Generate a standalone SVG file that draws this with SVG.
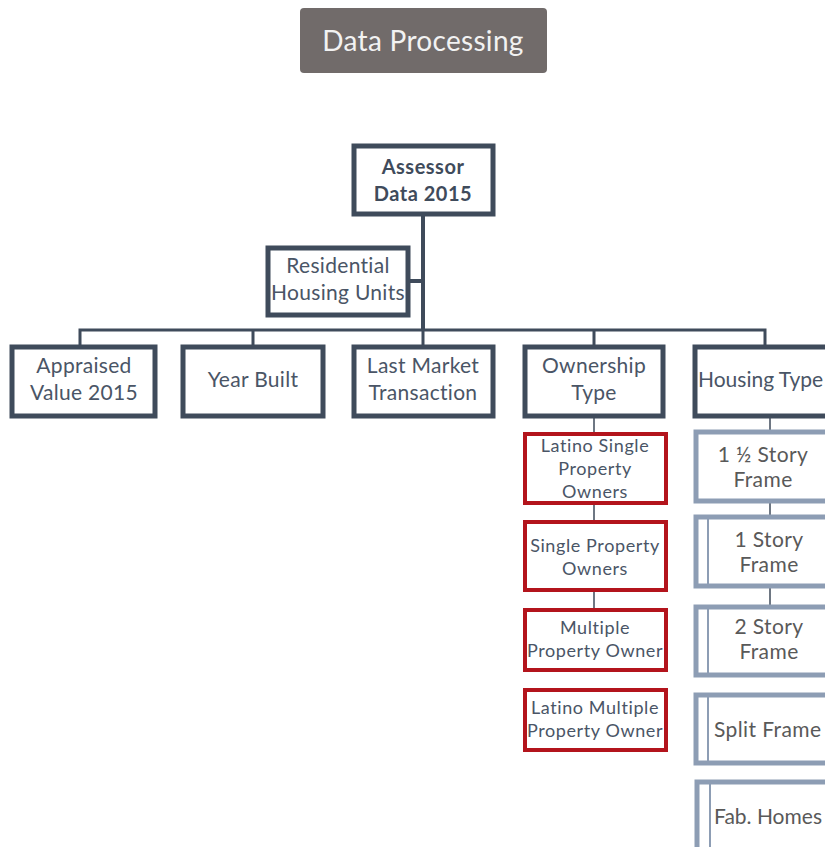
<svg xmlns="http://www.w3.org/2000/svg" width="825" height="847" viewBox="0 0 825 847">
<style>
text{font-family:Lato,"Open Sans","Liberation Sans",sans-serif;text-anchor:middle}
.dark{fill:#fff;stroke:#3f4b5b;stroke-width:5}
.red{fill:#fff;stroke:#b3141c;stroke-width:4}
.lite{fill:#fff;stroke:#8d9db4;stroke-width:5}
.inner{stroke:#8d9db4;stroke-width:2}
.t2{fill:#4a5566;font-size:21px;letter-spacing:0.3px}
.t3{fill:#4a5566;font-size:18px;letter-spacing:0.6px}
.t4{fill:#595959;font-size:21px;letter-spacing:0.4px}
.conn{stroke:#3f4b5b;fill:none}
</style>
<rect width="825" height="847" fill="#fff"/>
<g id="title">
<rect x="300" y="8" width="247" height="65" rx="4" fill="#716b6a"/>
<text x="423" y="51" style="fill:#f2f2f2;font-size:28px;letter-spacing:0.3px">Data Processing</text>
</g>
<g id="connectors">
<path class="conn" stroke-width="4" d="M423 215V330M410 281H423"/>
<path class="conn" stroke-width="3" d="M80 346V330H765V346M253 330V346M423 330V346M594 330V346"/>
<path class="conn" stroke-width="1.5" d="M594 418V432M594 505V520M594 592V608M770 418V430M770 503V515M770 588V605"/>
</g>
<g id="assessor">
<rect class="dark" x="354" y="146" width="139" height="68"/>
<text x="423" y="174" style="fill:#3f4b5b;font-size:20px;font-weight:bold;letter-spacing:0.5px">Assessor</text>
<text x="423" y="201" style="fill:#3f4b5b;font-size:20px;font-weight:bold;letter-spacing:0.5px">Data 2015</text>
</g>
<g id="residential">
<rect class="dark" x="268" y="248" width="140" height="67"/>
<text class="t2" x="338" y="273">Residential</text>
<text class="t2" x="338" y="300">Housing Units</text>
</g>
<g id="appraised">
<rect class="dark" x="12" y="347" width="143" height="69"/>
<text class="t2" x="84" y="373">Appraised</text>
<text class="t2" x="84" y="400">Value 2015</text>
</g>
<g id="yearbuilt">
<rect class="dark" x="183" y="347" width="140" height="69"/>
<text class="t2" x="253" y="387">Year Built</text>
</g>
<g id="lastmarket">
<rect class="dark" x="354" y="347" width="139" height="69"/>
<text class="t2" x="423" y="373">Last Market</text>
<text class="t2" x="423" y="400">Transaction</text>
</g>
<g id="ownership">
<rect class="dark" x="525" y="347" width="138" height="69"/>
<text class="t2" x="594" y="373">Ownership</text>
<text class="t2" x="594" y="400">Type</text>
</g>
<g id="housingtype">
<rect class="dark" x="695" y="347" width="140" height="69"/>
<text class="t2" x="698" y="387" style="text-anchor:start;letter-spacing:0">Housing Type</text>
</g>
<g id="latinosingle">
<rect class="red" x="525" y="434" width="141" height="69"/>
<text class="t3" x="595" y="452">Latino Single</text>
<text class="t3" x="595" y="475">Property</text>
<text class="t3" x="595" y="498">Owners</text>
</g>
<g id="singleproperty">
<rect class="red" x="525" y="522" width="141" height="68"/>
<text class="t3" x="595" y="552">Single Property</text>
<text class="t3" x="595" y="575">Owners</text>
</g>
<g id="multiple">
<rect class="red" x="525" y="610" width="141" height="60"/>
<text class="t3" x="595" y="634">Multiple</text>
<text class="t3" x="595" y="657">Property Owner</text>
</g>
<g id="latinomultiple">
<rect class="red" x="525" y="690" width="141" height="60"/>
<text class="t3" x="595" y="714">Latino Multiple</text>
<text class="t3" x="595" y="737">Property Owner</text>
</g>
<g id="story15">
<rect class="lite" x="696" y="432" width="140" height="69"/>
<text class="t4" x="763" y="462">1 ½ Story</text>
<text class="t4" x="763" y="487">Frame</text>
</g>
<g id="story1">
<rect class="lite" x="696" y="517" width="140" height="69"/>
<line class="inner" x1="708" y1="519" x2="708" y2="584"/>
<text class="t4" x="769" y="547">1 Story</text>
<text class="t4" x="769" y="572">Frame</text>
</g>
<g id="story2">
<rect class="lite" x="696" y="607" width="140" height="68"/>
<line class="inner" x1="708" y1="609" x2="708" y2="673"/>
<text class="t4" x="769" y="634">2 Story</text>
<text class="t4" x="769" y="659">Frame</text>
</g>
<g id="split">
<rect class="lite" x="696" y="695" width="140" height="68"/>
<line class="inner" x1="708" y1="697" x2="708" y2="761"/>
<text class="t4" x="714" y="737" style="text-anchor:start">Split Frame</text>
</g>
<g id="fab">
<rect class="lite" x="697" y="782" width="140" height="80"/>
<line class="inner" x1="710" y1="784" x2="710" y2="847"/>
<text class="t4" x="714" y="824" style="text-anchor:start;letter-spacing:0">Fab. Homes</text>
</g>
</svg>
